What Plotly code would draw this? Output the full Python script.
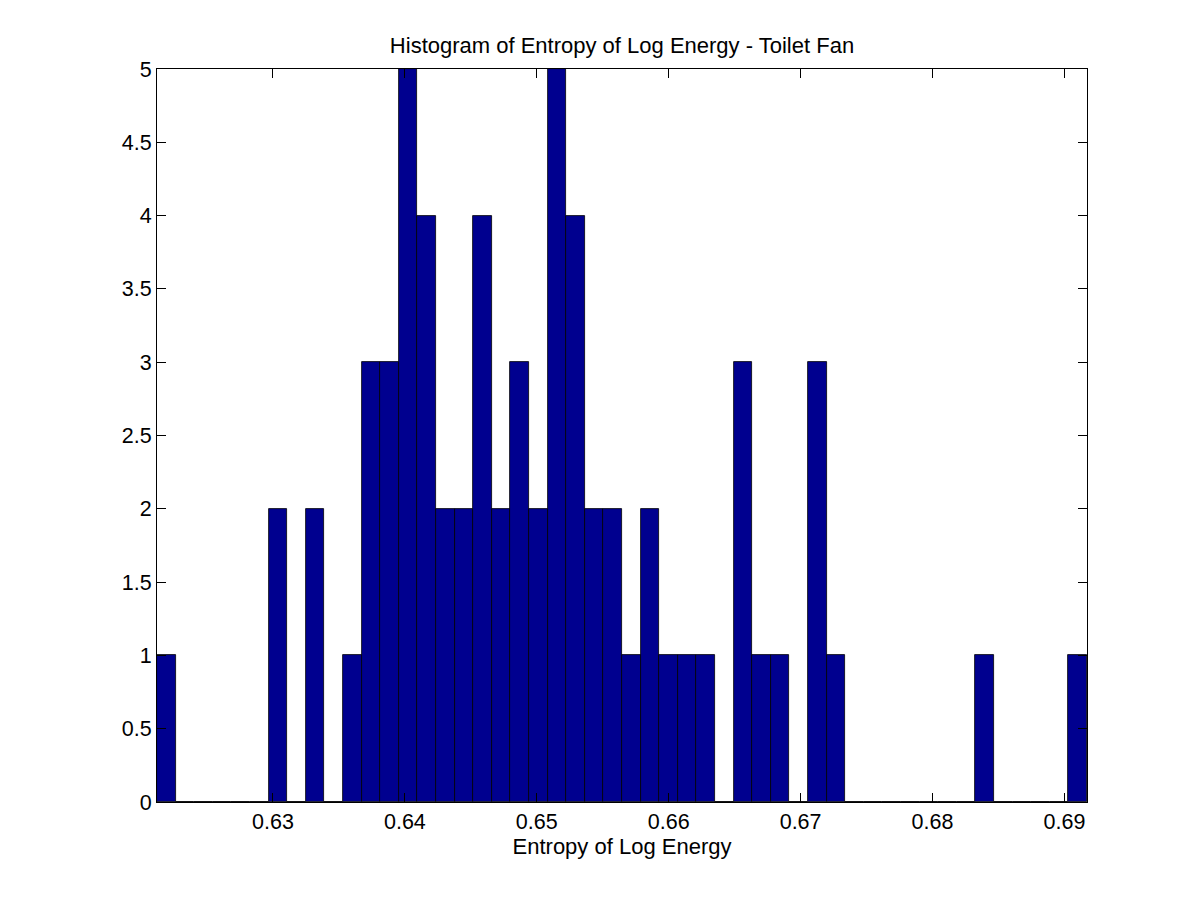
import plotly.graph_objects as go

# Histogram data (50 bins)
bin_lo = 0.62121
bin_hi = 0.69171
counts = [1, 0, 0, 0, 0, 0, 2, 0, 2, 0,
          1, 3, 3, 5, 4, 2, 2, 4, 2, 3,
          2, 5, 4, 2, 2, 1, 2, 1, 1, 1,
          0, 3, 1, 1, 0, 3, 1, 0, 0, 0,
          0, 0, 0, 0, 1, 0, 0, 0, 0, 1]
x_ticks = [0.63, 0.64, 0.65, 0.66, 0.67, 0.68, 0.69]
x_tick_labels = ["0.63", "0.64", "0.65", "0.66", "0.67", "0.68", "0.69"]
y_ticks = [0, 0.5, 1, 1.5, 2, 2.5, 3, 3.5, 4, 4.5, 5]
y_tick_labels = ["0", "0.5", "1", "1.5", "2", "2.5", "3", "3.5", "4", "4.5", "5"]

n = len(counts)
bw = (bin_hi - bin_lo) / n
centers = [bin_lo + bw * (i + 0.5) for i in range(n)]

fig = go.Figure(go.Bar(
    x=centers, y=counts, width=[bw] * n,
    marker=dict(color="#00008F", line=dict(color="black", width=0.8)),
))

font = "Liberation Sans, Arial, sans-serif"
fig.update_layout(
    width=1200, height=900,
    paper_bgcolor="white", plot_bgcolor="white",
    margin=dict(l=149, r=121, t=61, b=106),
    showlegend=False,
    font=dict(family=font, size=21.5, color="black"),
    title=dict(text="Histogram of Entropy of Log Energy - Toilet Fan",
               x=0.5, xref="paper", xanchor="center",
               y=1 - 37 / 900, yanchor="middle", font=dict(size=22)),
    bargap=0,
)
fig.update_xaxes(
    range=[bin_lo, bin_hi], tickvals=x_ticks, ticktext=x_tick_labels,
    ticks="inside", ticklen=9, tickcolor="black", tickwidth=1,
    showline=True, linecolor="black", linewidth=1, mirror="ticks",
    showgrid=False, zeroline=False,
    title=dict(text="Entropy of Log Energy", font=dict(size=22), standoff=5),
)
fig.update_yaxes(
    range=[0, 5], tickvals=y_ticks, ticktext=y_tick_labels,
    ticks="inside", ticklen=9, tickcolor="black", tickwidth=1,
    showline=True, linecolor="black", linewidth=1, mirror="ticks",
    showgrid=False, zeroline=False,
)

fig.write_html("out.html")
